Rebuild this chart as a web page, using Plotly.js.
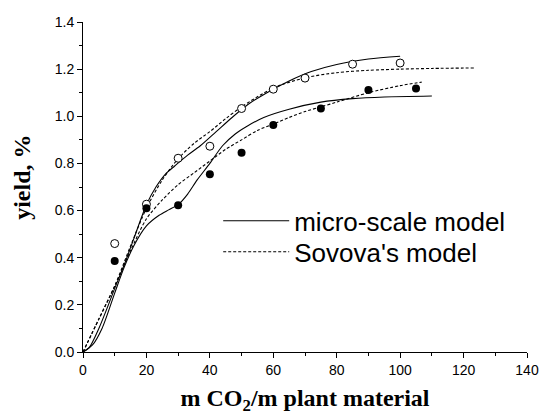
<!DOCTYPE html>
<html>
<head>
<meta charset="utf-8">
<script src="https://cdn.plot.ly/plotly-3.0.1.min.js"></script>
<style>html,body{margin:0;padding:0;background:#fff;}#chart{width:540px;height:417px;}</style>
</head>
<body>
<div id="chart"></div>
<script>
// Experimental points (open circles / filled circles)
const openX = [10, 20, 30, 40, 50, 60, 70, 85, 100];
const openY = [0.46, 0.627, 0.822, 0.873, 1.033, 1.115, 1.162, 1.221, 1.226];
const fillX = [10, 20, 30, 40, 50, 60, 75, 90, 105];
const fillY = [0.386, 0.61, 0.623, 0.754, 0.845, 0.963, 1.033, 1.112, 1.118];

// Micro-scale model, upper set (solid)
const microOpenX = [0, 2, 5, 8, 10, 13, 16, 20, 23, 26, 29, 33, 37, 42, 47, 52, 58, 65, 72, 80, 90, 100];
const microOpenY = [0, 0.02, 0.1, 0.2, 0.27, 0.37, 0.48, 0.625, 0.7, 0.755, 0.79, 0.835, 0.875, 0.935, 0.995, 1.05, 1.1, 1.15, 1.19, 1.22, 1.243, 1.255];
// Sovova model, upper set (dashed)
const sovOpenX = [0, 5, 10, 15, 20, 25, 30, 35, 40, 45, 50, 60, 70, 80, 90, 100, 110, 123.7];
const sovOpenY = [0, 0.14, 0.28, 0.45, 0.61, 0.73, 0.82, 0.885, 0.935, 0.99, 1.04, 1.12, 1.163, 1.185, 1.195, 1.2, 1.203, 1.205];
// Micro-scale model, lower set (solid)
const microFillX = [0, 3, 6, 10, 13, 16, 20, 24, 27, 30, 33, 36, 40, 44, 48, 52, 57, 65, 75, 85, 95, 110];
const microFillY = [0, 0.03, 0.1, 0.25, 0.36, 0.45, 0.535, 0.58, 0.603, 0.625, 0.67, 0.73, 0.8, 0.875, 0.925, 0.96, 0.995, 1.03, 1.06, 1.075, 1.082, 1.086];
// Sovova model, lower set (dashed)
const sovFillX = [0, 5, 10, 15, 20, 25, 30, 35, 40, 45, 50, 55, 60, 65, 70, 75, 80, 90, 100, 106.8];
const sovFillY = [0, 0.14, 0.28, 0.43, 0.565, 0.645, 0.71, 0.76, 0.81, 0.86, 0.9, 0.94, 0.967, 0.995, 1.02, 1.04, 1.06, 1.1, 1.13, 1.145];

const xTicks = [0, 20, 40, 60, 80, 100, 120, 140];
const yTicks = [0.0, 0.2, 0.4, 0.6, 0.8, 1.0, 1.2, 1.4];
const yTickText = ['0.0', '0.2', '0.4', '0.6', '0.8', '1.0', '1.2', '1.4'];

const solid = {color: '#000', width: 1.1, shape: 'spline', smoothing: 0.8};
const dashed = {color: '#000', width: 1.1, dash: '3px,2px', shape: 'spline', smoothing: 0.8};

const traces = [
  {x: microOpenX, y: microOpenY, mode: 'lines', line: solid, name: 'micro-scale model', showlegend: true, legend: 'legend'},
  {x: sovOpenX, y: sovOpenY, mode: 'lines', line: dashed, name: "Sovova's model", showlegend: true, legend: 'legend2'},
  {x: microFillX, y: microFillY, mode: 'lines', line: solid, showlegend: false},
  {x: sovFillX, y: sovFillY, mode: 'lines', line: dashed, showlegend: false},
  {x: openX, y: openY, mode: 'markers', marker: {symbol: 'circle', size: 8, color: '#fff', line: {color: '#000', width: 1}}, showlegend: false},
  {x: fillX, y: fillY, mode: 'markers', marker: {symbol: 'circle', size: 8, color: '#000', line: {color: '#000', width: 0}}, showlegend: false}
];

const tickFont = {family: 'Arial, "Liberation Sans", sans-serif', size: 14, color: '#000'};
const titleFont = {family: '"Times New Roman", "Liberation Serif", serif', size: 24, color: '#000'};
const legendFont = {family: 'Arial, "Liberation Sans", sans-serif', size: 26, color: '#000'};
const layout = {
  width: 540, height: 417,
  margin: {l: 83, r: 13, t: 22, b: 65},
  paper_bgcolor: '#fff', plot_bgcolor: '#fff',
  showlegend: true,
  legend: {
    x: 0.3045, y: 0.3975, xanchor: 'left', yanchor: 'middle',
    font: legendFont, itemwidth: 66, bgcolor: 'rgba(0,0,0,0)'
  },
  legend2: {
    x: 0.3045, y: 0.3037, xanchor: 'left', yanchor: 'middle',
    font: legendFont, itemwidth: 66, bgcolor: 'rgba(0,0,0,0)'
  },
  xaxis: {
    range: [0, 140], tickvals: xTicks, ticktext: xTicks.map(String),
    showline: true, linecolor: '#000', linewidth: 1, mirror: false,
    ticks: 'outside', ticklen: 5, tickcolor: '#000', tickwidth: 1,
    minor: {dtick: 10, ticks: 'outside', ticklen: 3, tickcolor: '#000', tickwidth: 1, showgrid: false},
    showgrid: false, zeroline: false, tickfont: tickFont,
    title: {text: '<b>m CO<sub>2</sub>/m plant material</b>', font: titleFont, standoff: 12}
  },
  yaxis: {
    range: [0, 1.4], tickvals: yTicks, ticktext: yTickText,
    showline: true, linecolor: '#000', linewidth: 1, mirror: false,
    ticks: 'outside', ticklen: 5, tickcolor: '#000', tickwidth: 1,
    minor: {dtick: 0.1, ticks: 'outside', ticklen: 3, tickcolor: '#000', tickwidth: 1, showgrid: false},
    showgrid: false, zeroline: false, tickfont: tickFont
  },
  annotations: [{
    text: '<b>yield, %</b>', xref: 'paper', yref: 'paper', x: -0.138, y: 0.53,
    xanchor: 'center', yanchor: 'middle', textangle: -90, showarrow: false, font: titleFont
  }]
};

Plotly.newPlot('chart', traces, layout, {staticPlot: true, displayModeBar: false});
</script>
</body>
</html>
